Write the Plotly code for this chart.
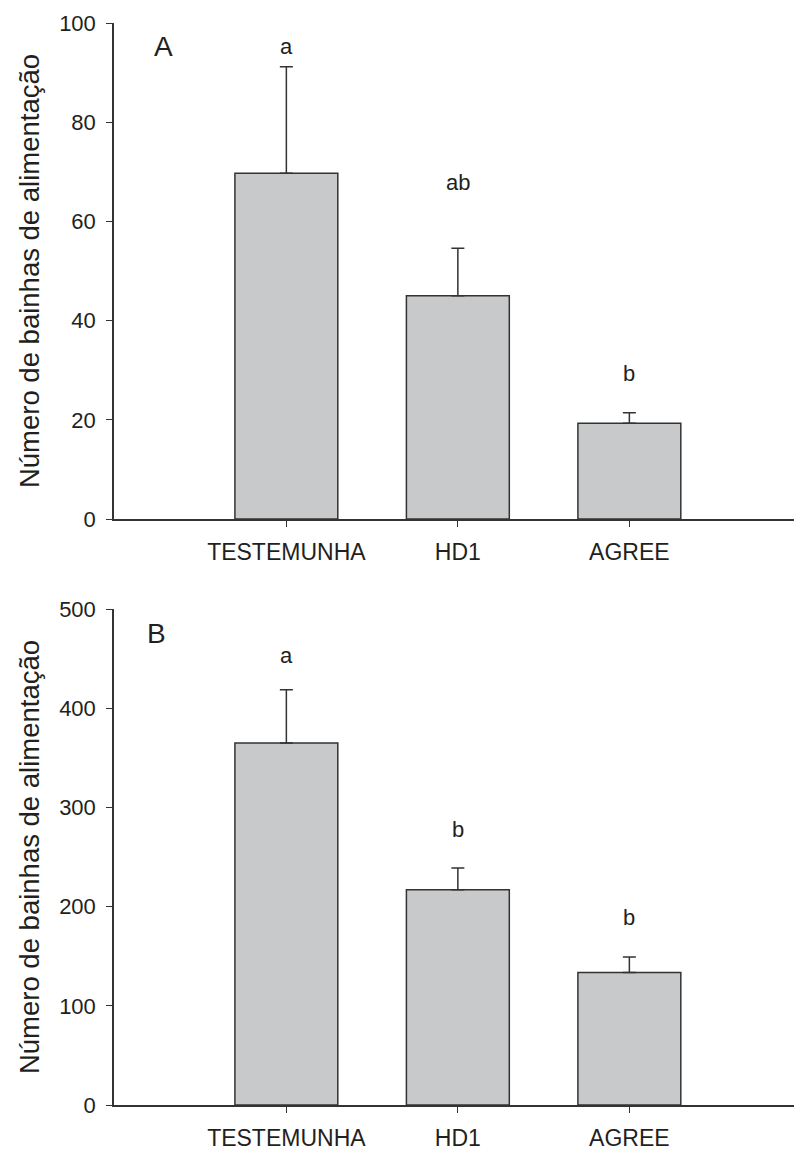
import plotly.graph_objects as go

# Treatments and tick labels
categories = ["TESTEMUNHA", "HD1", "AGREE"]
cat_pos = [1, 2, 3]

# Panel A: feeding sheaths (means and upper error)
means_a = [69.7, 45.0, 19.3]
errs_a = [21.5, 9.6, 2.1]
letters_a = ["a", "ab", "b"]
letter_y_a = [95.2, 67.9, 29.4]

# Panel B
means_b = [365.0, 217.0, 133.5]
errs_b = [53.5, 22.0, 15.8]
letters_b = ["a", "b", "b"]
letter_y_b = [453.5, 277.5, 188.6]

y_ticks_a = [0, 20, 40, 60, 80, 100]
y_ticks_b = [0, 100, 200, 300, 400, 500]

ytitle = "Número de bainhas de alimentação"

FONT = "Liberation Sans, Arial, sans-serif"
INK = "#231f20"
LINE = "#333333"
BAR_FILL = "#c8c9cb"

W, H = 794, 1151

fig = go.Figure()


def add_panel(means, errs, xa, ya):
    fig.add_trace(go.Bar(
        x=cat_pos, y=means, width=0.6,
        marker=dict(color=BAR_FILL, line=dict(color=LINE, width=1.5)),
        error_y=dict(type="data", symmetric=False, array=errs,
                     arrayminus=[0] * len(errs),
                     color=LINE, thickness=1.5, width=6.5),
        xaxis=xa, yaxis=ya, showlegend=False,
    ))


add_panel(means_a, errs_a, "x", "y")
add_panel(means_b, errs_b, "x2", "y2")

xdom = [114 / W, 1.0]
ydom_a = [1 - 519 / H, 1 - 23 / H]
ydom_b = [1 - 1105 / H, 1 - 609 / H]

xaxis_common = dict(
    range=[-0.005, 3.96], tickmode="array", tickvals=cat_pos, ticktext=categories,
    showline=True, linecolor=LINE, linewidth=2, ticks="outside", ticklen=6,
    tickwidth=1.2, tickcolor=LINE, showgrid=False, zeroline=False,
    tickfont=dict(family=FONT, size=23, color=INK), ticklabelstandoff=5,
    domain=xdom, fixedrange=True, automargin=False,
)
yaxis_common = dict(
    showline=True, linecolor=LINE, linewidth=1.5, ticks="outside", ticklen=6,
    tickwidth=1.2, tickcolor=LINE, showgrid=False, zeroline=False,
    tickfont=dict(family=FONT, size=22, color=INK), ticklabelstandoff=6,
    title=dict(text=ytitle, font=dict(family=FONT, size=27.5, color=INK), standoff=12),
    automargin=False,
)

fig.update_layout(
    width=W, height=H, margin=dict(l=0, r=0, t=0, b=0, autoexpand=False),
    paper_bgcolor="white", plot_bgcolor="white",
    xaxis=dict(xaxis_common, anchor="y"),
    yaxis=dict(yaxis_common, range=[0, 100], tickvals=y_ticks_a, domain=ydom_a, anchor="x"),
    xaxis2=dict(xaxis_common, anchor="y2"),
    yaxis2=dict(yaxis_common, range=[0, 500], tickvals=y_ticks_b, domain=ydom_b, anchor="x2"),
    bargap=0.4,
)

annotations = []
for xv, yv, t in zip(cat_pos, letter_y_a, letters_a):
    annotations.append(dict(x=xv, y=yv, xref="x", yref="y", text=t, showarrow=False,
                            font=dict(family=FONT, size=22, color=INK)))
for xv, yv, t in zip(cat_pos, letter_y_b, letters_b):
    annotations.append(dict(x=xv, y=yv, xref="x2", yref="y2", text=t, showarrow=False,
                            font=dict(family=FONT, size=22, color=INK)))
annotations.append(dict(x=0.285, y=95.2, xref="x", yref="y", text="A", showarrow=False,
                        font=dict(family=FONT, size=28, color=INK)))
annotations.append(dict(x=0.244, y=475.5, xref="x2", yref="y2", text="B", showarrow=False,
                        font=dict(family=FONT, size=28, color=INK)))
fig.update_layout(annotations=annotations)

fig.write_html("out.html")
